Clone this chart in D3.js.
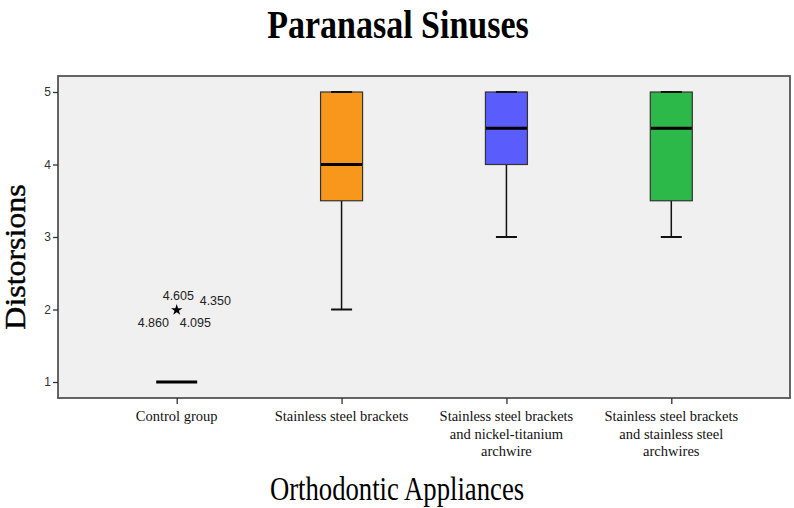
<!DOCTYPE html>
<meta charset="utf-8">
<style>
    body {
        margin: 0;
        background-color: #ffffff;
    }
    svg {
        display: block;
    }
    .serif {
        font-family: "Liberation Serif", "DejaVu Serif", serif;
    }
    .axis text {
        font-family: "Liberation Sans", Arial, sans-serif;
        font-size: 12px;
        fill: #333;
    }
    .axis path {
        display: none;
    }
    .axis line {
        stroke: #333;
        stroke-width: 1.3;
    }
</style>
<body>
<script src="https://cdn.jsdelivr.net/npm/d3@7"></script>
<script>

    // categories on the x axis (one label line per entry)
    const groups = ["Control group", "Stainless steel brackets",
        "Stainless steel brackets and nickel-titanium archwire",
        "Stainless steel brackets and stainless steel archwires"];
    const groupLines = [
        ["Control group"],
        ["Stainless steel brackets"],
        ["Stainless steel brackets", "and nickel-titanium", "archwire"],
        ["Stainless steel brackets", "and stainless steel", "archwires"]
    ];

    // box plot summaries: whisker low, q1, median, q3, whisker high
    const whiskerLow = [1, 2, 3, 3];
    const q1 = [1, 3.5, 4, 3.5];
    const median = [1, 4, 4.5, 4.5];
    const q3 = [1, 5, 5, 5];
    const whiskerHigh = [1, 5, 5, 5];
    const boxColors = [null, "#f7981d", "#5a5cfc", "#2db84a"];

    // extreme values of the control group (marked with a star)
    const extremeValue = 2;
    const extremeLabels = ["4.605", "4.350", "4.860", "4.095"];

    const yTicks = [1, 2, 3, 4, 5];

    const W = 794, H = 508;
    const frame = {left: 58, top: 76, right: 790, bottom: 398};

    const svg = d3.select("body")
        .append("svg")
        .attr("width", W)
        .attr("height", H);

    // plot background + frame
    svg.append("rect")
        .attr("x", frame.left)
        .attr("y", frame.top)
        .attr("width", frame.right - frame.left)
        .attr("height", frame.bottom - frame.top)
        .attr("fill", "#f0f0f0")
        .attr("stroke", "#555")
        .attr("stroke-width", 1.8);

    const x = d3.scalePoint()
        .domain(groups)
        .range([frame.left, frame.right])
        .padding(0.72);

    const y = d3.scaleLinear()
        .domain([1, 5])
        .range([382, 92]);

    const boxW = 42, capW = 21;

    // y axis
    svg.append("g")
        .attr("class", "axis")
        .attr("transform", "translate(" + frame.left + ",0)")
        .call(d3.axisLeft(y).tickValues(yTicks).tickFormat(d3.format("d")).tickSize(5).tickPadding(2));

    // x axis ticks
    svg.append("g")
        .attr("class", "axis")
        .attr("transform", "translate(0," + frame.bottom + ")")
        .call(d3.axisBottom(x).tickSize(6).tickFormat(""));

    // category labels
    const catLabels = svg.append("g")
        .selectAll("text")
        .data(groups)
        .enter().append("text")
        .attr("class", "serif")
        .attr("x", d => x(d))
        .attr("y", 421)
        .attr("text-anchor", "middle")
        .style("font-size", "14.5px")
        .style("fill", "#111");
    catLabels.each(function(d, i) {
        d3.select(this).selectAll("tspan")
            .data(groupLines[i])
            .enter().append("tspan")
            .attr("x", x(d))
            .attr("dy", (t, j) => j === 0 ? 0 : 17.5)
            .text(t => t);
    });

    // boxes
    const boxes = svg.append("g")
        .selectAll("g")
        .data(groups)
        .enter().append("g");

    boxes.each(function(d, i) {
        const g = d3.select(this);
        const cx = x(d);
        // whisker lines
        g.append("line")
            .attr("x1", cx).attr("x2", cx)
            .attr("y1", y(whiskerLow[i])).attr("y2", y(q1[i]))
            .attr("stroke", "#111").attr("stroke-width", 1.5);
        g.append("line")
            .attr("x1", cx).attr("x2", cx)
            .attr("y1", y(whiskerHigh[i])).attr("y2", y(q3[i]))
            .attr("stroke", "#111").attr("stroke-width", 1.5);
        if (boxColors[i]) {
            g.append("rect")
                .attr("x", cx - boxW / 2)
                .attr("y", y(q3[i]))
                .attr("width", boxW)
                .attr("height", y(q1[i]) - y(q3[i]))
                .attr("fill", boxColors[i])
                .attr("stroke", "#333")
                .attr("stroke-width", 1.2);
            // caps
            [whiskerLow[i], whiskerHigh[i]].forEach(v => {
                g.append("line")
                    .attr("x1", cx - capW / 2).attr("x2", cx + capW / 2)
                    .attr("y1", y(v)).attr("y2", y(v))
                    .attr("stroke", "#111").attr("stroke-width", 2);
            });
        }
        // median
        g.append("line")
            .attr("x1", cx - boxW / 2 + 0.5).attr("x2", cx + boxW / 2 - 0.5)
            .attr("y1", y(median[i])).attr("y2", y(median[i]))
            .attr("stroke", "#000").attr("stroke-width", 3);
    });

    // extreme star for control group
    const cx0 = x(groups[0]);
    svg.append("path")
        .attr("d", d3.symbol().type(d3.symbolStar).size(40)())
        .attr("transform", "translate(" + cx0 + "," + (y(extremeValue) + 0.5) + ")")
        .attr("fill", "#000");

    const labelPos = [[-14, -10], [23, -5], [-39, 17], [3, 17]];
    svg.append("g")
        .selectAll("text")
        .data(extremeLabels)
        .enter().append("text")
        .attr("x", (d, i) => cx0 + labelPos[i][0])
        .attr("y", (d, i) => y(extremeValue) + labelPos[i][1])
        .style("font-family", "\"Liberation Sans\", Arial, sans-serif")
        .style("font-size", "12.5px")
        .style("fill", "#222")
        .text(d => d);

    // title and axis titles (the original is stretched vertically)
    svg.append("text")
        .attr("class", "serif")
        .attr("transform", "translate(398,38) scale(1,1.15)")
        .attr("text-anchor", "middle")
        .style("font-size", "34px")
        .style("font-weight", "bold")
        .text("Paranasal Sinuses");

    svg.append("text")
        .attr("class", "serif")
        .attr("transform", "translate(25,257) rotate(-90) scale(1.1,1)")
        .attr("text-anchor", "middle")
        .style("font-size", "29px")
        .style("stroke", "#000")
        .style("stroke-width", 0.4)
        .text("Distorsions");

    svg.append("text")
        .attr("class", "serif")
        .attr("transform", "translate(397,500) scale(1,1.24)")
        .attr("text-anchor", "middle")
        .style("font-size", "26.7px")
        .text("Orthodontic Appliances");

</script>
</body>
</html>
